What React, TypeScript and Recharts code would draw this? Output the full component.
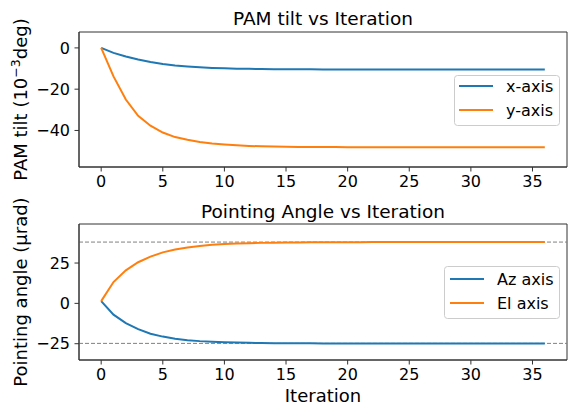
import React from "react";
import {
  LineChart,
  Line,
  XAxis,
  YAxis,
  ReferenceLine,
  ReferenceArea,
  Legend,
} from "recharts";

const iterations = [
  0, 1, 2, 3, 4, 5, 6, 7, 8, 9, 10, 11, 12, 13, 14, 15, 16, 17, 18, 19, 20,
  21, 22, 23, 24, 25, 26, 27, 28, 29, 30, 31, 32, 33, 34, 35, 36,
];

const pamX = [
  0, -2.4, -4.2, -5.6, -6.8, -7.8, -8.5, -9.0, -9.4, -9.7, -9.9, -10.05,
  -10.15, -10.25, -10.3, -10.35, -10.4, -10.4, -10.45, -10.45, -10.45, -10.5,
  -10.5, -10.5, -10.5, -10.5, -10.5, -10.5, -10.5, -10.5, -10.5, -10.5, -10.5,
  -10.5, -10.5, -10.5, -10.5,
];

const pamY = [
  0, -13.8, -25.0, -32.9, -37.7, -41.0, -43.2, -44.5, -45.6, -46.3, -46.8,
  -47.2, -47.5, -47.7, -47.8, -47.9, -48.0, -48.0, -48.05, -48.05, -48.1,
  -48.1, -48.1, -48.1, -48.1, -48.1, -48.1, -48.1, -48.1, -48.1, -48.1, -48.1,
  -48.1, -48.1, -48.1, -48.1, -48.1,
];

const azAxis = [
  1.4, -7.0, -12.2, -16.0, -18.8, -20.6, -21.9, -22.8, -23.4, -23.8, -24.1,
  -24.3, -24.45, -24.55, -24.65, -24.7, -24.75, -24.75, -24.8, -24.8, -24.8,
  -24.8, -24.8, -24.8, -24.8, -24.8, -24.8, -24.8, -24.8, -24.8, -24.8, -24.8,
  -24.8, -24.8, -24.8, -24.8, -24.8,
];

const elAxis = [
  1.4, 13.2, 20.5, 25.5, 29.0, 31.6, 33.4, 34.7, 35.6, 36.3, 36.8, 37.1, 37.3,
  37.5, 37.6, 37.7, 37.8, 37.85, 37.9, 37.9, 37.95, 37.95, 38.0, 38.0, 38.0,
  38.0, 38.0, 38.0, 38.0, 38.0, 38.0, 38.0, 38.0, 38.0, 38.0, 38.0, 38.0,
];

const xTicks = [0, 5, 10, 15, 20, 25, 30, 35];
const topYTicks = [-40, -20, 0];
const bottomYTicks = [-25, 0, 25];
const targetLevels = [38.0, -24.8];

const topData = iterations.map((it, i) => ({ it, x: pamX[i], y: pamY[i] }));
const bottomData = iterations.map((it, i) => ({
  it,
  az: azAxis[i],
  el: elAxis[i],
}));

const BLUE = "#1f77b4";
const ORANGE = "#ff7f0e";
const FONT = "DejaVu Sans";
const SPINE = "#333333";
const LW = 2;

const X_DOMAIN: [number, number] = [-1.8, 37.8];
const TOP_DOMAIN: [number, number] = [-57.7, 7.7];
const BOTTOM_DOMAIN: [number, number] = [-35.1, 49.2];

function makeLegend(
  w: number,
  h: number,
  lx1: number,
  lx2: number,
  ly: number[],
  tx: number,
  items: { label: string; color: string }[]
) {
  return () => (
    <svg width={w} height={h} style={{ display: "block" }}>
      <rect
        x={0.5}
        y={0.5}
        width={w - 1}
        height={h - 1}
        rx={3}
        ry={3}
        fill="rgba(255,255,255,0.8)"
        stroke="#cccccc"
        strokeWidth={1}
      />
      {items.map((it, i) => (
        <g key={it.label}>
          <line
            x1={lx1}
            x2={lx2}
            y1={ly[i]}
            y2={ly[i]}
            stroke={it.color}
            strokeWidth={LW}
          />
          <text
            x={tx}
            y={ly[i] + 6}
            fontFamily={FONT}
            fontSize={16}
            fill="#000"
          >
            {it.label}
          </text>
        </g>
      ))}
    </svg>
  );
}

const axisCommon = {
  stroke: SPINE,
  tickSize: 4.5,
  tickMargin: 4.5,
  tick: { fill: "#000", fontSize: 16, fontFamily: FONT },
};

const minusFmt = (v: number) => (v < 0 ? "\u2212" + Math.abs(v) : String(v));

export default function App() {
  return (
    <div
      style={{
        position: "absolute",
        left: 0,
        top: 0,
        width: 568,
        height: 405,
        background: "#fff",
      }}
    >
      <div style={{ position: "absolute", left: 0, top: 0 }}>
        <LineChart
          width={568}
          height={200}
          data={topData}
          margin={{ top: 32, right: 1, bottom: 0, left: 0 }}
        >
          <XAxis
            dataKey="it"
            type="number"
            domain={X_DOMAIN}
            ticks={xTicks}
            allowDataOverflow
            height={33}
            {...axisCommon}
          />
          <YAxis
            type="number"
            domain={TOP_DOMAIN}
            ticks={topYTicks}
            allowDataOverflow
            width={79}
            tickFormatter={minusFmt}
            {...axisCommon}
          />
          <ReferenceArea
            x1={X_DOMAIN[0]}
            x2={X_DOMAIN[1]}
            y1={TOP_DOMAIN[0]}
            y2={TOP_DOMAIN[1]}
            fill="none"
            fillOpacity={0}
            stroke={SPINE}
            strokeWidth={1}
          />
          <Line
            dataKey="x"
            name="x-axis"
            stroke={BLUE}
            strokeWidth={LW}
            dot={false}
            type="linear"
            isAnimationActive={false}
          />
          <Line
            dataKey="y"
            name="y-axis"
            stroke={ORANGE}
            strokeWidth={LW}
            dot={false}
            type="linear"
            isAnimationActive={false}
          />
          <Legend
            layout="horizontal"
            verticalAlign="middle"
            align="center"
            wrapperStyle={{ left: 454, top: 75, width: 106, height: 51 }}
            content={makeLegend(106, 51, 5, 39, [11, 35], 52, [
              { label: "x-axis", color: BLUE },
              { label: "y-axis", color: ORANGE },
            ])}
          />
        </LineChart>
      </div>

      <div style={{ position: "absolute", left: 0, top: 200 }}>
        <LineChart
          width={568}
          height={205}
          data={bottomData}
          margin={{ top: 24, right: 1, bottom: 0, left: 0 }}
        >
          <XAxis
            dataKey="it"
            type="number"
            domain={X_DOMAIN}
            ticks={xTicks}
            allowDataOverflow
            height={45}
            {...axisCommon}
          />
          <YAxis
            type="number"
            domain={BOTTOM_DOMAIN}
            ticks={bottomYTicks}
            allowDataOverflow
            width={79}
            tickFormatter={minusFmt}
            {...axisCommon}
          />
          <ReferenceArea
            x1={X_DOMAIN[0]}
            x2={X_DOMAIN[1]}
            y1={BOTTOM_DOMAIN[0]}
            y2={BOTTOM_DOMAIN[1]}
            fill="none"
            fillOpacity={0}
            stroke={SPINE}
            strokeWidth={1}
          />
          {targetLevels.map((v) => (
            <ReferenceLine
              key={v}
              y={v}
              stroke="#808080"
              strokeWidth={1}
              strokeDasharray="4 2"
            />
          ))}
          <Line
            dataKey="az"
            name="Az axis"
            stroke={BLUE}
            strokeWidth={LW}
            dot={false}
            type="linear"
            isAnimationActive={false}
          />
          <Line
            dataKey="el"
            name="El axis"
            stroke={ORANGE}
            strokeWidth={LW}
            dot={false}
            type="linear"
            isAnimationActive={false}
          />
          <Legend
            layout="horizontal"
            verticalAlign="middle"
            align="center"
            wrapperStyle={{ left: 444, top: 66, width: 116, height: 53 }}
            content={makeLegend(116, 53, 6, 40, [13, 37], 53, [
              { label: "Az axis", color: BLUE },
              { label: "El axis", color: ORANGE },
            ])}
          />
        </LineChart>
      </div>

      <svg
        width={568}
        height={405}
        style={{ position: "absolute", left: 0, top: 0, pointerEvents: "none" }}
        fontFamily={FONT}
      >
        <text x={323} y={25} textAnchor="middle" fontSize={18.5} fill="#000">
          PAM tilt vs Iteration
        </text>
        <text x={323} y={218} textAnchor="middle" fontSize={18.5} fill="#000">
          Pointing Angle vs Iteration
        </text>
        <text
          transform="translate(27,99.5) rotate(-90)"
          textAnchor="middle"
          fontSize={18}
          fill="#000"
        >
          PAM tilt (10
          <tspan fontSize={12.5} dy={-7}>
            −3
          </tspan>
          <tspan dy={7}>deg)</tspan>
        </text>
        <text
          transform="translate(27,292) rotate(-90)"
          textAnchor="middle"
          fontSize={18}
          fill="#000"
        >
          Pointing angle (μrad)
        </text>
        <text x={323} y={402} textAnchor="middle" fontSize={18} fill="#000">
          Iteration
        </text>
      </svg>
    </div>
  );
}
